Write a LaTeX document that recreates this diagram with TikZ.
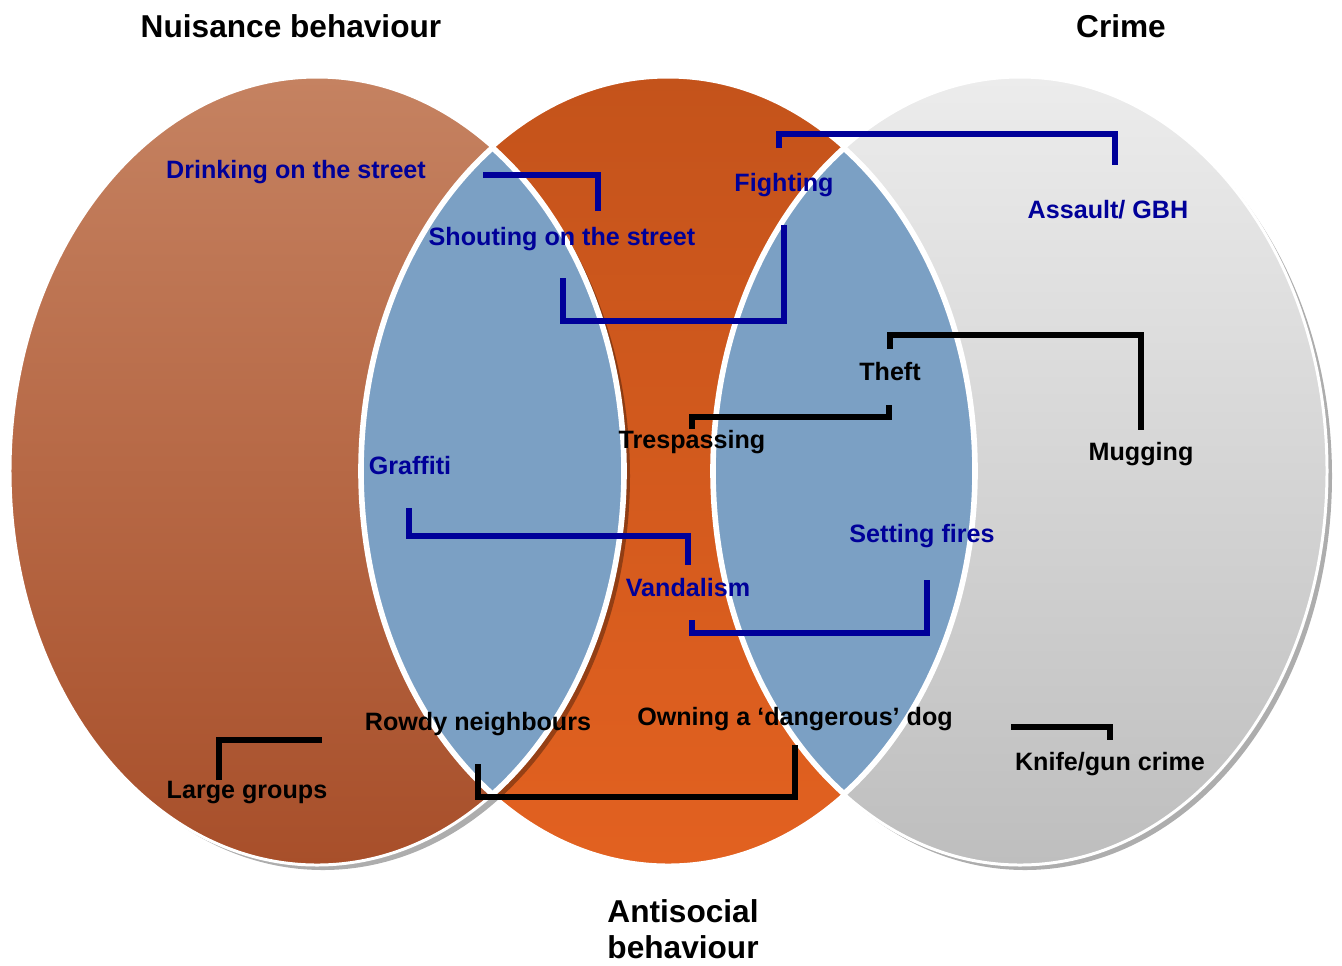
\documentclass[tikz,border=0pt]{standalone}
\usepackage{fontspec}
\setmainfont{Liberation Sans}
\usepackage{xcolor}
\usepackage{tikz}
\usetikzlibrary{calc,backgrounds}

\definecolor{nuisTop}{RGB}{197,130,97}
\definecolor{nuisBot}{RGB}{168,79,42}
\definecolor{asbTop}{RGB}{196,83,27}
\definecolor{asbBot}{RGB}{226,97,32}
\definecolor{crimeTop}{RGB}{236,236,236}
\definecolor{crimeBot}{RGB}{190,190,190}
\definecolor{lensblue}{RGB}{123,160,196}
\definecolor{navytxt}{RGB}{0,0,153}

\begin{document}
\begin{tikzpicture}[x=0.02cm, y=-0.02cm,
    lbl/.style={font=\fontsize{14.3}{17}\selectfont\bfseries, inner sep=0pt, text height=0.88em, text depth=0pt},
    navylbl/.style={lbl, text=navytxt},
    heading/.style={font=\fontsize{18}{20.5}\selectfont\bfseries, inner sep=0pt, align=center},
    link/.style={line width=3.1pt, navytxt},
    blacklink/.style={line width=3.1pt, black},
    rim/.style={draw=white, line width=1.7pt},
    shadow/.style={fill=black, opacity=0.32}]

    \useasboundingbox (0,0) rectangle (1342,965);

    % Ellipse centres
    \coordinate (nuis) at (317,471);
    \coordinate (asb) at (668,471);
    \coordinate (crime) at (1020,471);

    % Antisocial behaviour
    \shadedraw[top color=asbTop, bottom color=asbBot, rim] (asb) ellipse [x radius=307, y radius=394];

    % Nuisance behaviour
    \fill[shadow] ($(nuis)+(6,5)$) ellipse [x radius=307, y radius=394];
    \shadedraw[top color=nuisTop, bottom color=nuisBot, rim] (nuis) ellipse [x radius=307, y radius=394];

    % Crime
    \fill[shadow] ($(crime)+(5,5)$) ellipse [x radius=307, y radius=394];
    \shadedraw[top color=crimeTop, bottom color=crimeBot, rim] (crime) ellipse [x radius=307, y radius=394];

    % Overlaps
    \begin{scope}
        \clip (asb) ellipse [x radius=307, y radius=394];
        \fill[lensblue] (nuis) ellipse [x radius=307, y radius=394];
        \draw[white, line width=3.2pt] (nuis) ellipse [x radius=307, y radius=394];
    \end{scope}
    \begin{scope}
        \clip (nuis) ellipse [x radius=307, y radius=394];
        \draw[white, line width=3.2pt] (asb) ellipse [x radius=307, y radius=394];
    \end{scope}
    \begin{scope}
        \clip (asb) ellipse [x radius=307, y radius=394];
        \fill[lensblue] (crime) ellipse [x radius=307, y radius=394];
        \draw[white, line width=3.2pt] (crime) ellipse [x radius=307, y radius=394];
    \end{scope}
    \begin{scope}
        \clip (crime) ellipse [x radius=307, y radius=394];
        \draw[white, line width=3.2pt] (asb) ellipse [x radius=307, y radius=394];
    \end{scope}

    % Headings
    \node[heading] (nuisTitle) at (291,26) {Nuisance behaviour};
    \node[heading] (crimeTitle) at (1121,26) {Crime};
    \node[heading] (asbTitle) at (683,929) {Antisocial\\behaviour};

    % Behaviours
    \node[navylbl] (drink) at (296,171) {Drinking on the street};
    \node[navylbl] (shout) at (562,238) {Shouting on the street};
    \node[navylbl] (fight) at (784,184) {Fighting};
    \node[navylbl] (assault) at (1108,211) {Assault/ GBH};
    \node[lbl] (theft) at (890,373) {Theft};
    \node[lbl] (tresp) at (692,441) {Trespassing};
    \node[lbl] (mugging) at (1141,453) {Mugging};
    \node[navylbl] (graffiti) at (410,467) {Graffiti};
    \node[navylbl] (fires) at (922,535) {Setting fires};
    \node[navylbl] (vandal) at (688,589) {Vandalism};
    \node[lbl] (rowdy) at (478,723) {Rowdy neighbours};
    \node[lbl] (dog) at (795,718) {Owning a ‘dangerous’ dog};
    \node[lbl] (groups) at (247,791) {Large groups};
    \node[lbl] (knife) at (1110,763) {Knife/gun crime};

    % Link ends
    \coordinate (drink-r) at (483,175);
    \coordinate (shout-t) at (598,211);
    \coordinate (shout-b) at (563,278);
    \coordinate (fight-b) at (784,225);
    \coordinate (fight-t) at (779,148);
    \coordinate (assault-t) at (1115,165);
    \coordinate (theft-t) at (890,349);
    \coordinate (mugging-t) at (1141,430);
    \coordinate (theft-b) at (889,405);
    \coordinate (tresp-t) at (692,429);
    \coordinate (graffiti-b) at (409,508);
    \coordinate (vandal-t) at (688,565);
    \coordinate (vandal-b) at (692,620);
    \coordinate (fires-b) at (927,580);
    \coordinate (rowdy-b) at (478,764);
    \coordinate (dog-b) at (795,745);
    \coordinate (groups-t) at (219,780);
    \coordinate (groups-r) at (322,740);
    \coordinate (knife-l) at (1011,727);
    \coordinate (knife-t) at (1110,740);

    % Links
    \draw[link] (drink-r) -| (shout-t);
    \draw[link] (shout-b) -- ++(0,43) -| (fight-b);
    \draw[link] (fight-t) -- ++(0,-14) -| (assault-t);
    \draw[blacklink] (theft-t) -- ++(0,-14) -| (mugging-t);
    \draw[blacklink] (theft-b) -- ++(0,12) -| (tresp-t);
    \draw[link] (graffiti-b) -- ++(0,28) -| (vandal-t);
    \draw[link] (vandal-b) -- ++(0,13) -| (fires-b);
    \draw[blacklink] (rowdy-b) -- ++(0,33) -| (dog-b);
    \draw[blacklink] (groups-t) |- (groups-r);
    \draw[blacklink] (knife-l) -| (knife-t);
\end{tikzpicture}
\end{document}
